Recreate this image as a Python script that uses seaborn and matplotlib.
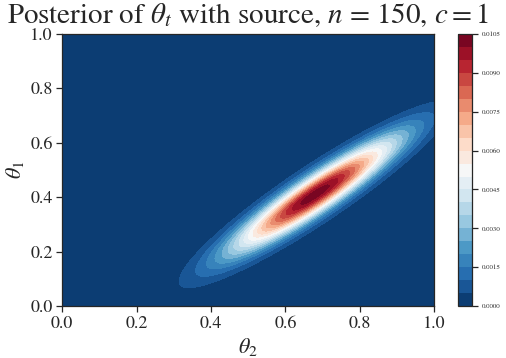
import numpy as np
import matplotlib
matplotlib.use("Agg")
import matplotlib.pyplot as plt
import seaborn as sns

# posterior shape: centre, spreads, tilt, peak height
mean = [0.68, 0.41]          # theta_2, theta_1
sd_major = 0.20
sd_minor = 0.038
angle_deg = 43.0
peak = 0.01035
levels = np.arange(0, 0.01051, 0.0005)
cbar_ticks = np.arange(0, 0.01051, 0.0015)

sns.set_theme(style="ticks")
plt.rcParams['font.family'] = ['STIXGeneral', 'DejaVu Serif']
plt.rcParams['mathtext.fontset'] = 'stix'

# density on grid
t2 = np.linspace(0, 1, 200)
t1 = np.linspace(0, 1, 200)
X, Y = np.meshgrid(t2, t1)
a = np.deg2rad(angle_deg)
dx, dy = X - mean[0], Y - mean[1]
u = dx * np.cos(a) + dy * np.sin(a)
v = -dx * np.sin(a) + dy * np.cos(a)
Z = peak * np.exp(-0.5 * ((u / sd_major) ** 2 + (v / sd_minor) ** 2))

fig = plt.figure(figsize=(506 / 72, 358 / 72), dpi=72)
ax = fig.add_axes([0.123, 0.145, 0.735, 0.76])
cax = fig.add_axes([0.905, 0.145, 0.028, 0.76])

cmap = sns.color_palette("RdBu_r", as_cmap=True)
cs = ax.contourf(X, Y, Z, levels=levels, cmap=cmap)
cb = fig.colorbar(cs, cax=cax, ticks=cbar_ticks)
cb.ax.tick_params(labelsize=7)
cb.ax.set_yticklabels(['%.4f' % t for t in cbar_ticks])

ax.set_xlim(0, 1)
ax.set_ylim(0, 1)
ax.tick_params(labelsize=18)
ax.set_xlabel(r'$\theta_2$', fontsize=22)
ax.set_ylabel(r'$\theta_1$', fontsize=22)
ax.set_title(r'Posterior of $\theta_t$ with source, $n$ = 150, $c=1$', fontsize=29, pad=11)

fig.savefig('out.png', dpi=72)
